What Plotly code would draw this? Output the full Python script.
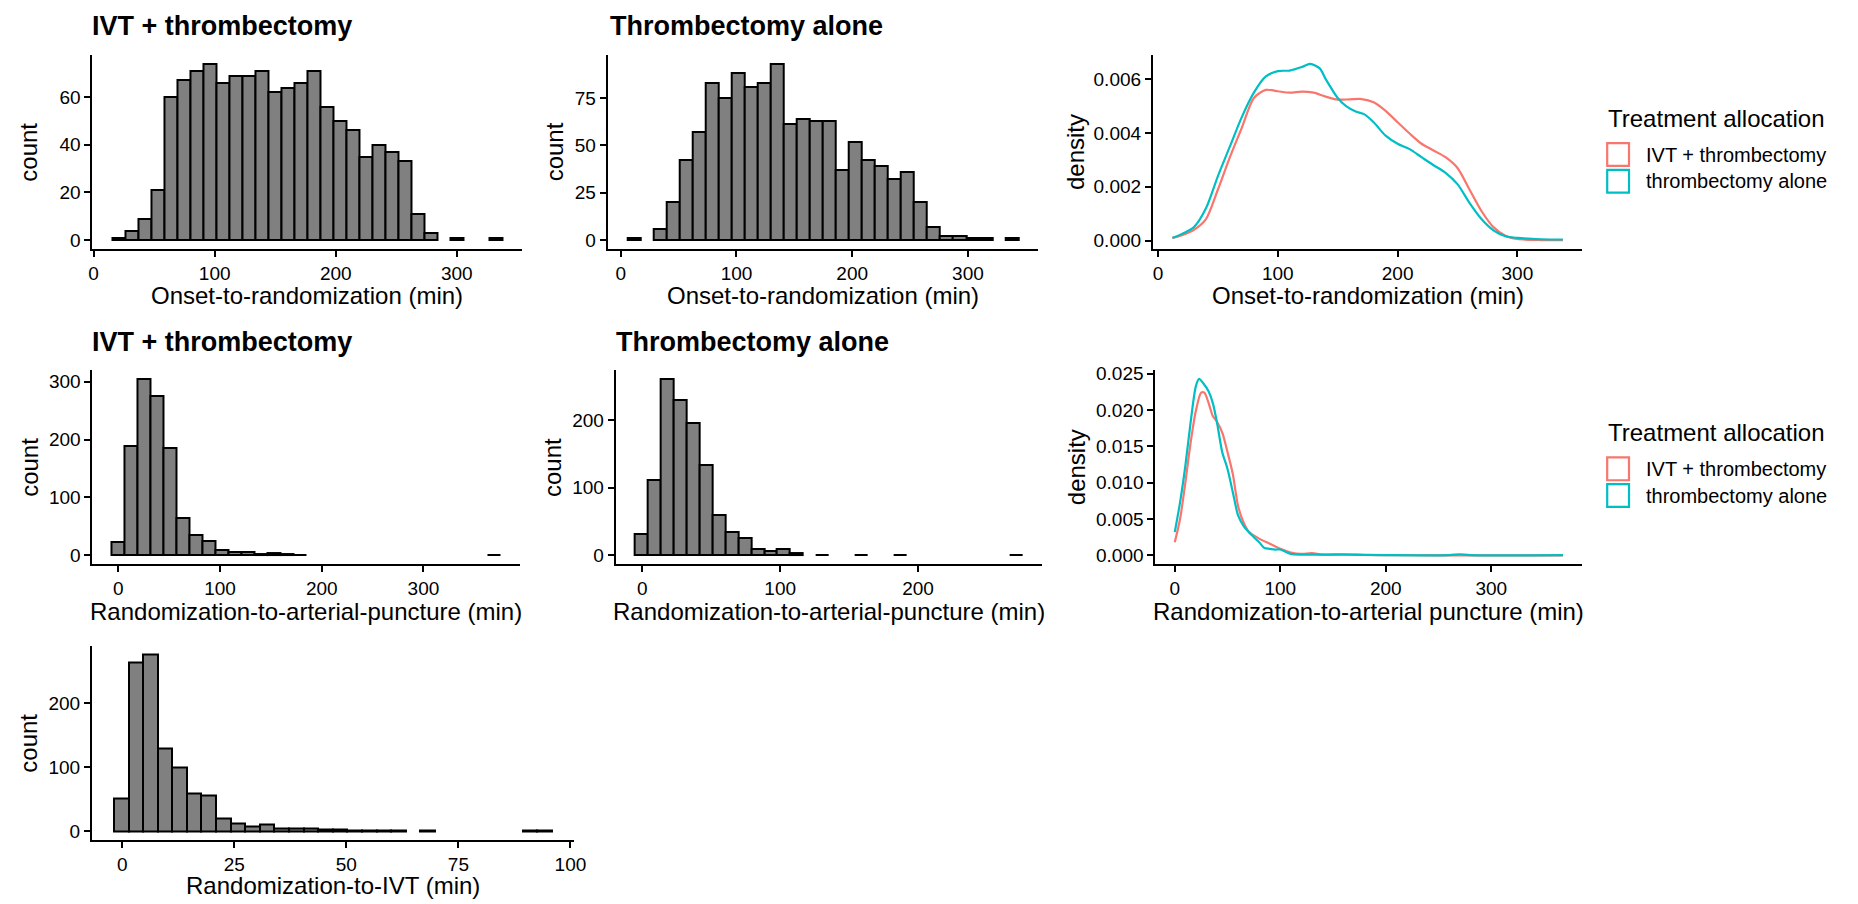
import plotly.graph_objects as go

# ---------------- data ----------------
# Histogram 1: IVT + thrombectomy, onset-to-randomization (min), 30 bins
ONSET_IVT_START = 15.2
ONSET_IVT_WIDTH = 10.757
ONSET_IVT_COUNTS = [1, 4, 9, 21, 60, 67, 71, 74, 66, 69, 69, 71, 62, 64, 66,
                    71, 56, 50, 46, 35, 40, 37, 33, 11, 3, 0, 1, 0, 0, 1]

# Histogram 2: thrombectomy alone, onset-to-randomization (min)
ONSET_THR_START = 5.65
ONSET_THR_WIDTH = 11.265
ONSET_THR_COUNTS = [1, 0, 6, 20, 42, 57, 83, 75, 88, 81, 83, 93, 61, 64, 63,
                    63, 37, 52, 42, 39, 32, 36, 20, 7, 2, 2, 1, 1, 0, 1]

# Histogram 4: IVT + thrombectomy, randomization-to-arterial-puncture (min)
PUNCT_IVT_START = -6.2
PUNCT_IVT_WIDTH = 12.74
PUNCT_IVT_COUNTS = [23, 189, 305, 276, 185, 64, 35, 24, 9, 5, 6, 2, 3, 2, 1,
                    0, 0, 0, 0, 0, 0, 0, 0, 0, 0, 0, 0, 0, 0, 1]

# Histogram 5: thrombectomy alone, randomization-to-arterial-puncture (min)
PUNCT_THR_START = -5.24
PUNCT_THR_WIDTH = 9.366
PUNCT_THR_COUNTS = [32, 112, 261, 229, 196, 133, 60, 34, 25, 9, 7, 9, 3, 0, 1,
                    0, 0, 1, 0, 0, 1, 0, 0, 0, 0, 0, 0, 0, 0, 1]

# Histogram 7: randomization-to-IVT (min)
IVT_TIME_START = -1.86
IVT_TIME_WIDTH = 3.257
IVT_TIME_COUNTS = [52, 264, 276, 130, 99, 59, 56, 20, 13, 7, 11, 5, 5, 4, 3,
                   3, 1, 1, 1, 1, 0, 1, 0, 0, 0, 0, 0, 0, 1, 1]

# Density 3: onset-to-randomization by treatment allocation
ONSET_DENS_IVT_X = [12, 20, 30, 40, 50, 60, 70, 80, 90, 100, 110, 120, 130, 140, 150,
                    160, 170, 180, 190, 200, 210, 220, 230, 240, 250, 260, 270, 280,
                    290, 300, 320, 338]
ONSET_DENS_IVT_Y = [0.0001, 0.0002, 0.0004, 0.0008, 0.0019, 0.0031, 0.0042, 0.0053,
                    0.0056, 0.00555, 0.0055, 0.00554, 0.0055, 0.00535, 0.00524,
                    0.00525, 0.00526, 0.00514, 0.00482, 0.0044, 0.00398, 0.0036,
                    0.00335, 0.0031, 0.0027, 0.0019, 0.0011, 0.0005, 0.00018,
                    0.00006, 0.00002, 0.00002]
ONSET_DENS_THR_X = [12, 20, 30, 40, 50, 60, 70, 80, 90, 100, 110, 120, 127, 135, 140,
                    150, 157, 165, 172, 180, 190, 200, 210, 220, 230, 240, 250, 260,
                    270, 280, 290, 300, 320, 338]
ONSET_DENS_THR_Y = [0.0001, 0.00025, 0.0005, 0.0012, 0.0024, 0.0035, 0.0046, 0.0055,
                    0.0061, 0.0063, 0.00632, 0.00645, 0.00657, 0.0064, 0.006,
                    0.0053, 0.005, 0.0048, 0.0047, 0.0044, 0.0039, 0.0036, 0.0034,
                    0.0031, 0.0028, 0.00252, 0.0021, 0.0014, 0.0008, 0.00038,
                    0.00016, 0.0001, 0.00005, 0.00004]

# Density 6: randomization-to-arterial puncture by treatment allocation
PUNCT_DENS_IVT_X = [0, 5, 10, 15, 20, 25, 28, 32, 36, 40, 45, 50, 55, 60, 65, 70,
                    80, 90, 100, 110, 120, 130, 140, 160, 180, 200, 250, 300, 368]
PUNCT_DENS_IVT_Y = [0.0018, 0.005, 0.010, 0.0155, 0.0199, 0.0224, 0.0224, 0.021,
                    0.0192, 0.0184, 0.0169, 0.0142, 0.0112, 0.0068, 0.0046, 0.0033,
                    0.0023, 0.0016, 0.0009, 0.0004, 0.0002, 0.0003, 0.0001, 0.00015,
                    0.00005, 0.00002, 0.00001, 0.00001, 0.00001]
PUNCT_DENS_THR_X = [0, 5, 10, 15, 20, 23, 27, 32, 36, 40, 45, 50, 55, 60, 65, 70,
                    80, 85, 90, 95, 100, 105, 110, 120, 140, 160, 200, 260, 270,
                    280, 368]
PUNCT_DENS_THR_Y = [0.0032, 0.0073, 0.0123, 0.0183, 0.0233, 0.0243, 0.0237, 0.0226,
                    0.021, 0.0183, 0.0142, 0.0119, 0.0087, 0.0055, 0.0041, 0.0032,
                    0.0018, 0.001, 0.0009, 0.0008, 0.0008, 0.0005, 0.0002, 0.0001,
                    0.0001, 0.0001, 0.00003, 0.00003, 0.00015, 0.00003, 0.00002]

GROUPS = ["IVT + thrombectomy", "thrombectomy alone"]
GROUP_COLORS = ["#F8766D", "#00BFC4"]

# ---------------- layout helpers ----------------
W, H = 1858, 904
FONT = "Liberation Sans, Arial, Helvetica, sans-serif"
TICK_SIZE = 19
TITLE_SIZE = 24


def xdom(left, right):
    return [left / W, right / W]


def ydom(top, bottom):
    return [1 - bottom / H, 1 - top / H]


fig = go.Figure()


def expand(lo, hi, frac=0.05):
    span = hi - lo
    return [lo - frac * span, hi + frac * span]


def add_hist(idx, start, width, counts):
    centers = [start + width * (k + 0.5) for k in range(len(counts))]
    xs = [c for c, n in zip(centers, counts) if n > 0]
    ys = [n for n in counts if n > 0]
    fig.add_trace(go.Bar(
        x=xs, y=ys, width=[width] * len(xs),
        marker=dict(color="#808080", line=dict(color="black", width=2)),
        xaxis="x%d" % idx, yaxis="y%d" % idx, hoverinfo="x+y",
    ))
    xr = expand(start, start + width * len(counts))
    yr = expand(0, max(counts))
    return xr, yr


def add_density(idx, series):
    allx, ally = [], []
    for (xv, yv), col, name in zip(series, GROUP_COLORS, GROUPS):
        fig.add_trace(go.Scatter(
            x=xv, y=yv, mode="lines", name=name,
            line=dict(color=col, width=2.2, shape="spline", smoothing=0.8),
            xaxis="x%d" % idx, yaxis="y%d" % idx,
        ))
        allx += xv
        ally += yv
    return expand(min(allx), max(allx)), expand(min(ally), max(ally))


def axis_common():
    return dict(
        showline=True, linewidth=2, linecolor="black",
        ticks="outside", ticklen=6, tickwidth=2, tickcolor="black",
        showgrid=False, zeroline=False,
        tickfont=dict(family=FONT, size=TICK_SIZE, color="black"),
        fixedrange=True,
    )


# panel pixel boxes: (left, right, top, bottom)
BOX = {
    1: (89.3, 523.0, 48.5, 244.3),
    2: (609.3, 1043.5, 48.5, 244.3),
    3: (1159.5, 1593.0, 48.5, 244.3),
    4: (89.3, 521.0, 366.7, 562.7),
    5: (617.3, 1047.5, 366.7, 562.7),
    6: (1162.0, 1593.0, 366.7, 562.7),
    7: (88.8, 575.0, 645.0, 841.7),
}

ranges = {}
ranges[1] = add_hist(1, ONSET_IVT_START, ONSET_IVT_WIDTH, ONSET_IVT_COUNTS)
ranges[2] = add_hist(2, ONSET_THR_START, ONSET_THR_WIDTH, ONSET_THR_COUNTS)
ranges[3] = add_density(3, [(ONSET_DENS_IVT_X, ONSET_DENS_IVT_Y),
                            (ONSET_DENS_THR_X, ONSET_DENS_THR_Y)])
ranges[4] = add_hist(4, PUNCT_IVT_START, PUNCT_IVT_WIDTH, PUNCT_IVT_COUNTS)
ranges[5] = add_hist(5, PUNCT_THR_START, PUNCT_THR_WIDTH, PUNCT_THR_COUNTS)
ranges[6] = add_density(6, [(PUNCT_DENS_IVT_X, PUNCT_DENS_IVT_Y),
                            (PUNCT_DENS_THR_X, PUNCT_DENS_THR_Y)])
ranges[7] = add_hist(7, IVT_TIME_START, IVT_TIME_WIDTH, IVT_TIME_COUNTS)

XTICKS = {
    1: [0, 100, 200, 300], 2: [0, 100, 200, 300], 3: [0, 100, 200, 300],
    4: [0, 100, 200, 300], 5: [0, 100, 200], 6: [0, 100, 200, 300],
    7: [0, 25, 50, 75, 100],
}
YTICKS = {
    1: [0, 20, 40, 60], 2: [0, 25, 50, 75], 3: [0, 0.002, 0.004, 0.006],
    4: [0, 100, 200, 300], 5: [0, 100, 200],
    6: [0, 0.005, 0.010, 0.015, 0.020, 0.025], 7: [0, 100, 200],
}

layout = dict(
    width=W, height=H, margin=dict(l=0, r=0, t=0, b=0),
    plot_bgcolor="white", paper_bgcolor="white",
    showlegend=False, bargap=0,
    font=dict(family=FONT, color="black"),
)
for i in range(1, 8):
    l, r, t, b = BOX[i]
    xr, yr = ranges[i]
    xa = axis_common()
    xa.update(domain=xdom(l, r), range=xr, tickvals=XTICKS[i], anchor="y%d" % i)
    ya = axis_common()
    ya.update(domain=ydom(t, b), range=yr, tickvals=YTICKS[i], anchor="x%d" % i)
    if i in (3, 6):
        ya.update(tickformat=".3f")
    layout["xaxis%d" % i if i > 1 else "xaxis"] = xa
    layout["yaxis%d" % i if i > 1 else "yaxis"] = ya
fig.update_layout(**layout)

# ---------------- text: titles and axis titles ----------------
ann = []


def px_ann(text, x, y, size, xanchor="center", yanchor="middle", angle=0, bold=False):
    ann.append(dict(
        text=("<b>%s</b>" % text) if bold else text,
        x=x / W, y=1 - y / H, xref="paper", yref="paper",
        xanchor=xanchor, yanchor=yanchor, textangle=angle, showarrow=False,
        font=dict(family=FONT, size=size, color="black"),
    ))


# plot titles
px_ann("IVT + thrombectomy", 87.0, 19.0, 27, xanchor="left", bold=True)
px_ann("Thrombectomy alone", 609.5, 19.0, 27, xanchor="left", bold=True)
px_ann("IVT + thrombectomy", 87.0, 338.0, 27, xanchor="left", bold=True)
px_ann("Thrombectomy alone", 616.0, 338.0, 27, xanchor="left", bold=True)

# x-axis titles
XTITLES = {
    1: "Onset-to-randomization (min)", 2: "Onset-to-randomization (min)",
    3: "Onset-to-randomization (min)",
    4: "Randomization-to-arterial-puncture (min)",
    5: "Randomization-to-arterial-puncture (min)",
    6: "Randomization-to-arterial puncture (min)",
    7: "Randomization-to-IVT (min)",
}
XTITLE_Y = {1: 291, 2: 291, 3: 291, 4: 611, 5: 611, 6: 611, 7: 887}
for i, txt in XTITLES.items():
    l, r, t, b = BOX[i]
    px_ann(txt, (l + r) / 2, XTITLE_Y[i], TITLE_SIZE)

# y-axis titles
YTITLES = {1: ("count", 25), 2: ("count", 556.5), 3: ("density", 1082),
           4: ("count", 25), 5: ("count", 553), 6: ("density", 1082),
           7: ("count", 25)}
for i, (txt, xpos) in YTITLES.items():
    l, r, t, b = BOX[i]
    px_ann(txt, xpos, (t + b) / 2, TITLE_SIZE, angle=-90)

# ---------------- legends (drawn as keys + labels) ----------------
shapes = []
KEY_L, KEY_R = 1617, 1641
TEXT_X = 1655
for title_y, key_centers in ((113, (149, 176)), (430, (466.5, 493.5))):
    px_ann("Treatment allocation", KEY_L, title_y, TITLE_SIZE, xanchor="left")
    for cy, col, name in zip(key_centers, GROUP_COLORS, GROUPS):
        shapes.append(dict(
            type="rect", xref="paper", yref="paper",
            x0=(KEY_L + 1) / W, x1=(KEY_R - 1) / W,
            y0=1 - (cy + 11.5) / H, y1=1 - (cy - 11.5) / H,
            line=dict(color=col, width=2.2), fillcolor="white",
        ))
        px_ann(name, TEXT_X, cy, 20, xanchor="left")

fig.update_layout(annotations=ann, shapes=shapes)

fig.write_html(
    "out.html",
    config={"displayModeBar": False},
    post_script="document.body.style.margin='0';document.body.style.overflow='hidden';",
)
